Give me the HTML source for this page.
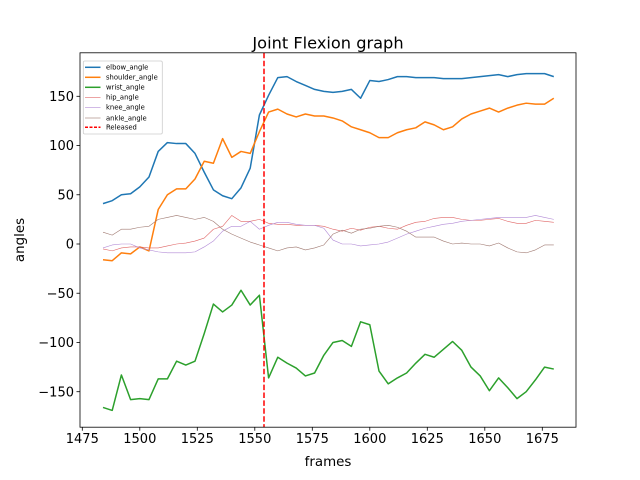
<!DOCTYPE html>
<html><head><meta charset="utf-8"><style>
body{margin:0;background:#fff;}
svg{display:block;font-family:"DejaVu Sans","Liberation Sans",sans-serif;}
</style></head><body>
<svg id="chart" width="640" height="480" viewBox="0 0 640 480" xmlns="http://www.w3.org/2000/svg">
<rect width="640" height="480" fill="#fff"/>
<g id="plot"></g>
<text x="328" y="48.5" font-size="16.2" text-anchor="middle" fill="#000">Joint Flexion graph</text>
<text x="328" y="466" font-size="13.4" text-anchor="middle" fill="#000">frames</text>
<text x="0" y="0" font-size="13.4" text-anchor="middle" fill="#000" transform="translate(24,240) rotate(-90)">angles</text>
</svg>
<script>
const frames = [];
for (let f = 1484; f <= 1680; f += 4) frames.push(f);
const elbow = [41,44,50,51,58,68,94,103,102,102,92,73,55,49,46,57,77,131,151,169,170,165,161,157,155,154,155,157,148,166,165,167,170,170,169,169,169,168,168,168,169,170,171,172,170,172,173,173,173,170];
const shoulder = [-16,-17,-9,-10,-3,-7,35,50,56,56,66,84,82,107,88,94,92,114,134,137,132,129,132,130,130,128,125,119,116,113,108,108,113,116,118,124,121,116,119,127,132,135,138,134,138,141,143,142,142,148];
const wrist = [-166,-169,-133,-158,-157,-158,-137,-137,-119,-123,-119,-91,-61,-69,-62,-47,-62,-52,-136,-115,-121,-126,-134,-131,-113,-100,-98,-104,-79,-82,-129,-142,-136,-131,-121,-112,-115,-107,-99,-108,-125,-134,-149,-136,-146,-157,-150,-138,-125,-127];
const hip = [-5,-7,-4,-3,-3,-4,-4,-2,0,1,3,6,15,18,29,23,23,25,21,20,20,19,19,19,18,15,13,16,14,17,18,16,15,19,22,23,26,27,27,25,24,24,25,26,23,21,21,24,23,22];
const knee = [-4,-1,0,0,-4,-6,-8,-9,-9,-9,-8,-3,3,13,18,18,23,15,19,22,22,20,19,19,16,4,0,0,-2,-1,0,2,6,10,13,16,18,20,21,23,24,25,26,27,27,27,27,29,27,25];
const ankle = [12,9,15,15,17,18,25,27,29,27,25,27,23,15,10,6,2,-1,-4,-7,-4,-3,-6,-4,-1,10,14,11,15,16,18,19,17,13,7,7,7,3,0,1,0,0,-2,1,-4,-8,-9,-6,-1,-1];
const xTicks = [1475,1500,1525,1550,1575,1600,1625,1650,1675];
const yTicks = [-150,-100,-50,0,50,100,150];
const releaseFrame = 1554;
const seriesNames = ['elbow_angle','shoulder_angle','wrist_angle','hip_angle','knee_angle','ankle_angle'];

const L=80,R=576,T=52.8,B=427.2;
const xs = f => 82.3 + (f-1475)*2.3;
const ys = v => 244 - v*0.9847;
const NS='http://www.w3.org/2000/svg';
const plot=document.getElementById('plot');
function mk(tag,attrs,parent){const e=document.createElementNS(NS,tag);for(const k in attrs)e.setAttribute(k,attrs[k]);(parent||plot).appendChild(e);return e;}

const series=[
 {d:elbow,c:'#1f77b4',w:1.5,n:'elbow-line'},
 {d:shoulder,c:'#ff7f0e',w:1.5,n:'shoulder-line'},
 {d:wrist,c:'#2ca02c',w:1.5,n:'wrist-line'},
 {d:hip,c:'#e06666',w:0.6,n:'hip-line'},
 {d:knee,c:'#b28ad6',w:0.6,n:'knee-line'},
 {d:ankle,c:'#a07a72',w:0.6,n:'ankle-line'}
];
const clip=mk('clipPath',{id:'cp'});
mk('rect',{x:L,y:T,width:R-L,height:B-T},clip);
const g=mk('g',{'clip-path':'url(#cp)'});
series.forEach(s=>{
  const pts=s.d.map((v,i)=>xs(frames[i]).toFixed(2)+','+ys(v).toFixed(2)).join(' ');
  const p=mk('polyline',{points:pts,fill:'none',stroke:s.c,'stroke-width':s.w,'stroke-linejoin':'round'},g);
  
  
});
const rl=mk('line',{x1:xs(releaseFrame),x2:xs(releaseFrame),y1:T,y2:B,stroke:'#ff0000','stroke-width':1.5,'stroke-dasharray':'5.5,2.4'},g);



const frame=mk('rect',{x:L,y:T,width:R-L,height:B-T,fill:'none',stroke:'#000','stroke-width':0.8});



xTicks.forEach(t=>{
  const x=xs(t);
  const tk=mk('line',{x1:x,x2:x,y1:B,y2:B+3.5,stroke:'#000','stroke-width':0.8});
  
  
  const tx=mk('text',{x:x,y:B+16,'font-size':13,'text-anchor':'middle',fill:'#000'});
  tx.textContent=t;
  
  
});
yTicks.forEach(t=>{
  const y=ys(t);
  const tk=mk('line',{x1:L-3.5,x2:L,y1:y,y2:y,stroke:'#000','stroke-width':0.8});
  
  
  const tx=mk('text',{x:L-6,y:y+4.6,'font-size':13,'text-anchor':'end',fill:'#000'});
  tx.textContent=(t<0?'\u2212'+(-t):t);
  
  
});

const lg=mk('g',{});


mk('rect',{x:83.3,y:61,width:79,height:73,fill:'#fff',stroke:'#ccc','stroke-width':0.8,rx:1.5},lg);
const entries=[
 {n:seriesNames[0],c:'#1f77b4',w:1.5},
 {n:seriesNames[1],c:'#ff7f0e',w:1.5},
 {n:seriesNames[2],c:'#2ca02c',w:1.5},
 {n:seriesNames[3],c:'#e06666',w:0.6},
 {n:seriesNames[4],c:'#b28ad6',w:0.6},
 {n:seriesNames[5],c:'#a07a72',w:0.6},
 {n:'Released',c:'#ff0000',w:1.5,d:'3,1.5'}
];
const ly=[67.3,77.3,87.3,97.3,107.3,118,127.3];
entries.forEach((e,i)=>{
  const ln=mk('line',{x1:85,x2:100.5,y1:ly[i],y2:ly[i],stroke:e.c,'stroke-width':e.w},lg);
  if(e.d) ln.setAttribute('stroke-dasharray',e.d);
  
  
  const tx=mk('text',{x:106,y:ly[i]+2.4,'font-size':6.8,fill:'#000'},lg);
  tx.textContent=e.n;
  
  
});
</script>
</body></html>
